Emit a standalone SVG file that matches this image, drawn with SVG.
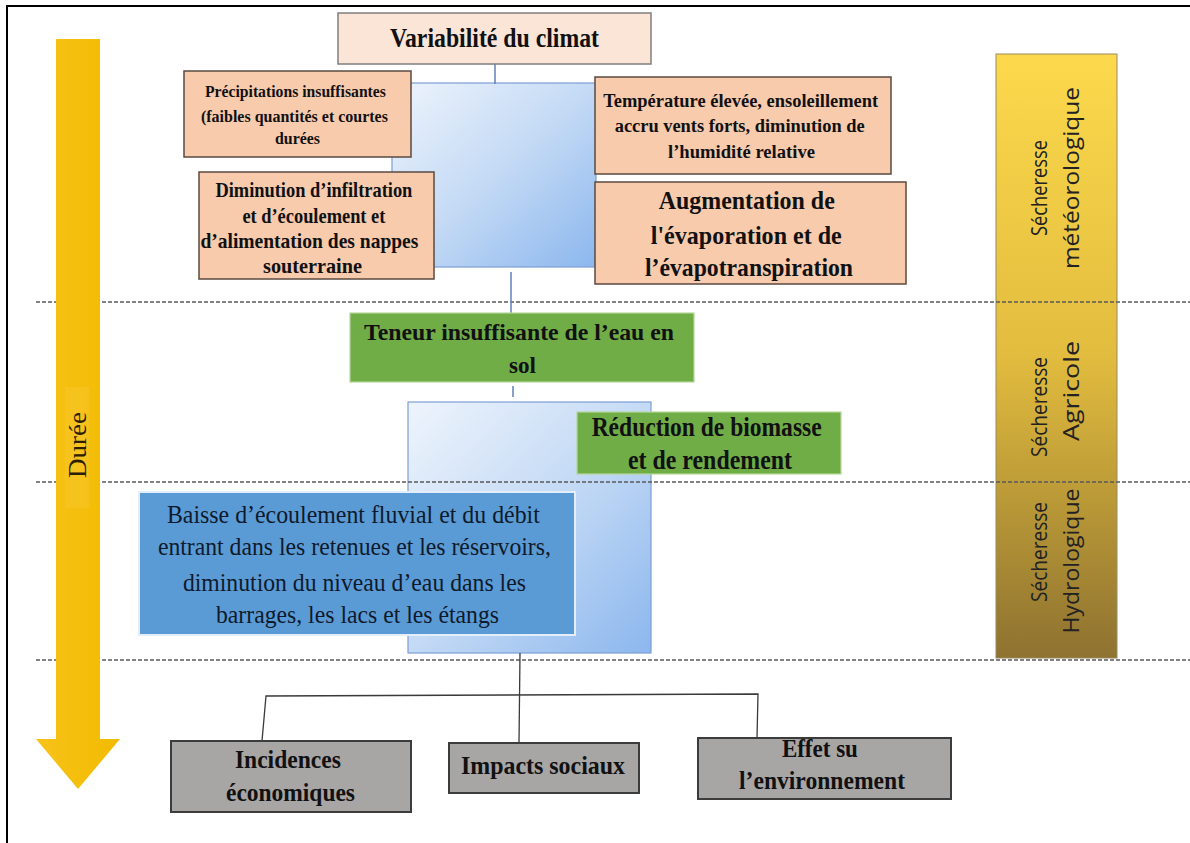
<svg xmlns="http://www.w3.org/2000/svg" width="1190" height="843" viewBox="0 0 1190 843">
<defs>
<linearGradient id="blueGrad" x1="0" y1="0" x2="1" y2="1">
<stop offset="0" stop-color="#eef4fc"/>
<stop offset="0.5" stop-color="#c4daf5"/>
<stop offset="1" stop-color="#8cb7ee"/>
</linearGradient>
<linearGradient id="bandGrad" x1="0" y1="0" x2="0" y2="1">
<stop offset="0" stop-color="#fcd94c"/>
<stop offset="0.5" stop-color="#e2bc3e"/>
<stop offset="1" stop-color="#8e7230"/>
</linearGradient>
<linearGradient id="arrowGrad" x1="0" y1="0" x2="1" y2="0">
<stop offset="0" stop-color="#f8c21a"/>
<stop offset="1" stop-color="#f2bb00"/>
</linearGradient>
<style>
.serif{font-family:"Liberation Serif","Times New Roman",serif;fill:#111;}
.b{font-weight:bold;}
.sans{font-family:"Open Sans","Liberation Sans",Arial,sans-serif;fill:#222;}
.peach{fill:#f8cbad;stroke:#5a4a40;stroke-width:1.5;}
.green{fill:#70ad47;stroke:#b5d89a;stroke-width:1.2;}
.gray{fill:#a8a5a5;stroke:#3c3c3c;stroke-width:2;}
.bluebg{fill:url(#blueGrad);stroke:#7c9fd4;stroke-width:1.2;}
.dash{stroke:#5a5a5a;stroke-width:1.3;stroke-dasharray:4 2;fill:none;}
.conTop{stroke:#5f82b8;stroke-width:1.5;fill:none;}
.conBot{stroke:#3a3a3a;stroke-width:1.3;fill:none;}
</style>
</defs>
<rect x="0" y="0" width="1190" height="843" fill="#ffffff"/>
<path d="M7,843 V6 H1190" fill="none" stroke="#000" stroke-width="2"/>

<!-- blue gradient background panels -->
<rect id="panel1" class="bluebg" x="392" y="83" width="204" height="184"/>
<rect id="panel2" class="bluebg" x="408" y="402" width="243" height="251"/>

<!-- right band -->
<g id="band">
<rect x="996" y="54" width="121" height="604" fill="url(#bandGrad)" stroke="#9a8a60" stroke-width="1"/>
<text class="sans" font-size="21" text-anchor="middle" transform="translate(1047,188) rotate(-90)" textLength="96" lengthAdjust="spacingAndGlyphs">Sécheresse</text>
<text class="sans" font-size="21" text-anchor="middle" transform="translate(1079,178) rotate(-90)" textLength="182" lengthAdjust="spacingAndGlyphs">météorologique</text>
<text class="sans" font-size="21" text-anchor="middle" transform="translate(1047,407) rotate(-90)" textLength="100" lengthAdjust="spacingAndGlyphs">Sécheresse</text>
<text class="sans" font-size="21" text-anchor="middle" transform="translate(1079,391) rotate(-90)" textLength="100" lengthAdjust="spacingAndGlyphs">Agricole</text>
<text class="sans" font-size="21" text-anchor="middle" transform="translate(1047,552) rotate(-90)" textLength="100" lengthAdjust="spacingAndGlyphs">Sécheresse</text>
<text class="sans" font-size="21" text-anchor="middle" transform="translate(1079,561) rotate(-90)" textLength="145" lengthAdjust="spacingAndGlyphs">Hydrologique</text>
</g>

<!-- dashed separators -->
<g id="separators">
<line class="dash" x1="36" y1="302" x2="1190" y2="302"/>
<line class="dash" x1="36" y1="482" x2="1190" y2="482"/>
<line class="dash" x1="36" y1="660" x2="1190" y2="660"/>
</g>

<!-- duration arrow -->
<g id="duree">
<path d="M56,39 H100 V739 H120 L78,789 L36,739 H56 Z" fill="url(#arrowGrad)"/>
<rect x="65" y="387" width="24" height="121" fill="#f9cb3a" opacity="0.35"/>
<text class="serif" font-size="25" text-anchor="middle" style="fill:#2a2000" transform="translate(86,445) rotate(-90)" textLength="66" lengthAdjust="spacingAndGlyphs">Durée</text>
</g>

<!-- connectors -->
<g id="connectors">
<line class="conTop" x1="495" y1="64" x2="495" y2="84"/>
<line class="conTop" x1="511" y1="272" x2="511" y2="313"/>
<line class="conTop" x1="513" y1="386" x2="513" y2="397"/>
<line class="conBot" x1="520" y1="653" x2="519" y2="743"/>
<polyline class="conBot" points="262,741 266,696 758,694 757,738"/>
</g>

<g id="n-climat">
<rect x="338" y="13" width="313" height="51" fill="#fbe5d6" stroke="#7f7f7f" stroke-width="1.5"/>
<text class="serif b" font-size="27" x="494.5" y="47" text-anchor="middle" textLength="209" lengthAdjust="spacingAndGlyphs">Variabilité du climat</text>
</g>

<g id="n-precip">
<rect class="peach" x="184" y="71" width="227" height="86"/>
<text class="serif b" font-size="16.5" text-anchor="middle">
<tspan x="297.5" y="97" textLength="181" lengthAdjust="spacingAndGlyphs">Précipitations  insuffisantes</tspan>
<tspan x="296.5" y="122" textLength="187" lengthAdjust="spacingAndGlyphs">(faibles quantités  et courtes</tspan>
<tspan x="297.5" y="144" textLength="45" lengthAdjust="spacingAndGlyphs">durées</tspan>
</text>
</g>

<g id="n-infiltration">
<rect class="peach" x="199" y="172" width="235" height="107"/>
<text class="serif b" font-size="21" text-anchor="middle">
<tspan x="316.5" y="197" textLength="197" lengthAdjust="spacingAndGlyphs">Diminution d’infiltration</tspan>
<tspan x="316.5" y="223" textLength="143" lengthAdjust="spacingAndGlyphs">et d’écoulement et</tspan>
<tspan x="312" y="248" textLength="218" lengthAdjust="spacingAndGlyphs">d’alimentation des nappes</tspan>
<tspan x="312.5" y="273" textLength="99" lengthAdjust="spacingAndGlyphs">souterraine</tspan>
</text>
</g>

<g id="n-temperature">
<rect class="peach" x="595" y="77" width="296" height="97"/>
<text class="serif b" font-size="18.5" text-anchor="middle">
<tspan x="743" y="107" textLength="275" lengthAdjust="spacingAndGlyphs">Température élevée, ensoleillement</tspan>
<tspan x="742" y="132" textLength="250" lengthAdjust="spacingAndGlyphs">accru vents forts, diminution  de</tspan>
<tspan x="741.5" y="158" textLength="147" lengthAdjust="spacingAndGlyphs">l’humidité  relative</tspan>
</text>
</g>

<g id="n-evaporation">
<rect class="peach" x="595" y="182" width="311" height="102"/>
<text class="serif b" font-size="26" text-anchor="middle">
<tspan x="750" y="209" textLength="176" lengthAdjust="spacingAndGlyphs">Augmentation de</tspan>
<tspan x="749.5" y="244" textLength="191" lengthAdjust="spacingAndGlyphs">l'évaporation et de</tspan>
<tspan x="749" y="276" textLength="208" lengthAdjust="spacingAndGlyphs">l’évapotranspiration</tspan>
</text>
</g>

<g id="n-teneur">
<rect class="green" x="350" y="313" width="344" height="69"/>
<text class="serif b" font-size="24" text-anchor="middle">
<tspan x="522" y="340" textLength="310" lengthAdjust="spacingAndGlyphs">Teneur insuffisante  de l’eau en</tspan>
<tspan x="522.5" y="373" textLength="27" lengthAdjust="spacingAndGlyphs">sol</tspan>
</text>
</g>

<g id="n-reduction">
<rect class="green" x="577" y="412" width="264" height="62"/>
<text class="serif b" font-size="27" text-anchor="middle">
<tspan x="710" y="436" textLength="230" lengthAdjust="spacingAndGlyphs">Réduction de biomasse</tspan>
<tspan x="710" y="469" textLength="164" lengthAdjust="spacingAndGlyphs">et de rendement</tspan>
</text>
</g>

<g id="n-baisse">
<rect x="139" y="492" width="436" height="143" fill="#5b9bd5" stroke="#e4eefa" stroke-width="2"/>
<text class="serif" font-size="25" text-anchor="middle" style="fill:#0e1a2c">
<tspan x="356.5" y="523" textLength="373" lengthAdjust="spacingAndGlyphs">Baisse d’écoulement fluvial et du débit</tspan>
<tspan x="357.5" y="555" textLength="393" lengthAdjust="spacingAndGlyphs">entrant dans les retenues et les réservoirs,</tspan>
<tspan x="357.5" y="591" textLength="343" lengthAdjust="spacingAndGlyphs">diminution du niveau d’eau dans les</tspan>
<tspan x="357.5" y="623" textLength="283" lengthAdjust="spacingAndGlyphs">barrages, les lacs et les étangs</tspan>
</text>
</g>

<g id="n-economiques">
<rect class="gray" x="171" y="741" width="240" height="71"/>
<text class="serif b" font-size="25" text-anchor="middle">
<tspan x="291" y="768" textLength="106" lengthAdjust="spacingAndGlyphs">Incidences</tspan>
<tspan x="290.5" y="801" textLength="129" lengthAdjust="spacingAndGlyphs">économiques</tspan>
</text>
</g>

<g id="n-sociaux">
<rect class="gray" x="449" y="743" width="190" height="50"/>
<text class="serif b" font-size="25" x="543" y="774" text-anchor="middle" textLength="164" lengthAdjust="spacingAndGlyphs">Impacts sociaux</text>
</g>

<g id="n-environnement">
<rect class="gray" x="698" y="738" width="253" height="61"/>
<text class="serif b" font-size="25" text-anchor="middle">
<tspan x="823" y="757" textLength="76" lengthAdjust="spacingAndGlyphs">Effet su</tspan>
<tspan x="822" y="789" textLength="166" lengthAdjust="spacingAndGlyphs">l’environnement</tspan>
</text>
</g>
</svg>
